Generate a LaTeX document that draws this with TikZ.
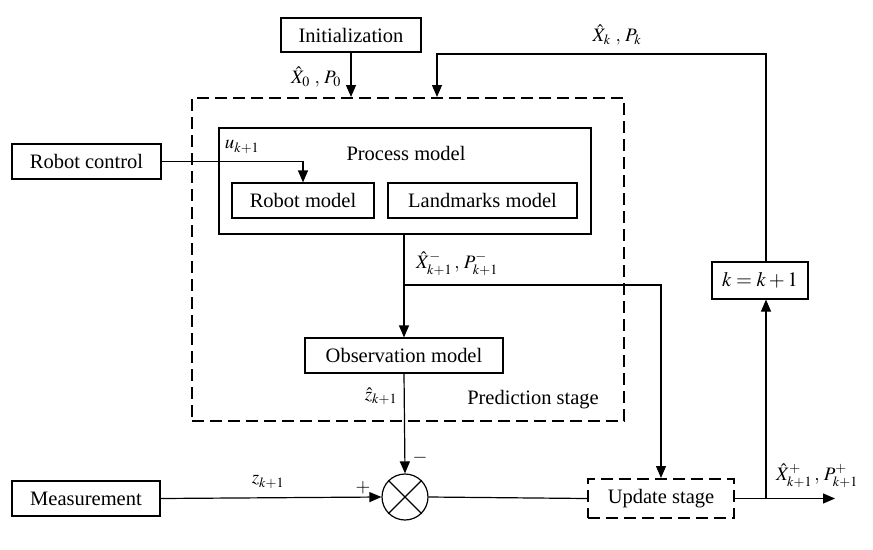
\documentclass[tikz,border=0pt]{standalone}
\usepackage{mathptmx}
\usepackage[no-math]{fontspec}
\setmainfont{Liberation Serif}
\usetikzlibrary{arrows.meta,calc}
\begin{document}
\begin{tikzpicture}[x=1pt,y=-1pt,
  box/.style={draw,line width=1.2pt,inner sep=0pt,font=\fontsize{20.5}{24}\selectfont},
  dbox/.style={draw,line width=2pt,dash pattern=on 12pt off 6pt,inner sep=0pt,font=\fontsize{20.5}{24}\selectfont},
  arr/.style={line width=1.2pt,-{Triangle[length=12pt,width=10pt]}},
  ln/.style={line width=1.2pt},
  lbl/.style={inner sep=0pt,font=\fontsize{19}{22}\selectfont},
  txt/.style={inner sep=0pt,font=\fontsize{20.5}{24}\selectfont}]
\useasboundingbox (0,0) rectangle (873,549);
\node[box,minimum width=140pt,minimum height=34pt] (init) at (351,35) {Initialization};
\node[dbox,minimum width=432pt,minimum height=323pt] (pred) at (408,259.5) {};
\node[box,minimum width=372pt,minimum height=106pt] (process) at (405,181) {};
\node[txt] (proctxt) at (406,153) {Process model};
\node[box,minimum width=149pt,minimum height=35pt] (robotctl) at (86.5,161.5) {Robot control};
\node[box,minimum width=142pt,minimum height=35pt] (robot) at (303,200.5) {Robot model};
\node[box,minimum width=189pt,minimum height=35pt] (landmarks) at (482.5,200.5) {Landmarks model};
\node[box,minimum width=198pt,minimum height=35pt] (obs) at (404,355.5) {Observation model};
\node[txt] (predtxt) at (533,400) {Prediction stage};
\node[box,minimum width=148pt,minimum height=35pt] (meas) at (86,498.5) {Measurement};
\node[draw,circle,line width=1.2pt,minimum size=46pt,inner sep=0pt] (sum) at (405,497) {};
\node[dbox,minimum width=146pt,minimum height=39pt] (update) at (661,498.5) {Update stage};
\node[box,minimum width=96pt,minimum height=37pt] (kbox) at (760,280.5) {$k=k+1$};

\draw[ln] (sum.north east) -- (sum.south west);
\draw[ln] (sum.north west) -- (sum.south east);

\coordinate (fbtop) at (766,54);
\coordinate (fbleft) at (437,54);
\coordinate (br) at (404,285);
\coordinate (kb) at (766,498.5);
\coordinate (out) at (835,498.5);

\draw[arr] (init.south) -- (init.south |- pred.north);
\draw[arr] (kb |- kbox.north) -- (fbtop) -- (fbleft) -- (fbleft |- pred.north);
\draw[arr] (robotctl.east) -| (robot.north);
\draw[arr] (process.south -| obs.north) -- (obs.north);
\draw[arr] (br) -| (update.north);
\draw[arr] (obs.south) -- (sum.north);
\draw[arr] (meas.east) -- (sum.west);
\draw[ln] (sum.east) -- (update.west);
\draw[arr] (update.east) -- (out);
\draw[arr] (kb) -- (kb |- kbox.south);

\node[lbl] (l0) at (316,77) {$\hat{X}_0\ ,\, P_0$};
\node[lbl] (lk) at (617,35) {$\hat{X}_k\ ,\, P_k$};
\node[lbl] (lu) at (242,147) {$u_{k+1}$};
\node[lbl] (lm) at (457,264) {$\hat{X}^-_{k+1}\,,\, P^-_{k+1}$};
\node[lbl] (lz) at (381,396) {$\hat{z}_{k+1}$};
\node[lbl] (lminus) at (420,458) {$-$};
\node[lbl] (lplus) at (363,488) {$+$};
\node[lbl] (lzm) at (268,482) {$z_{k+1}$};
\node[lbl] (lp) at (817,476) {$\hat{X}^+_{k+1}\,,\, P^+_{k+1}$};
\end{tikzpicture}
\end{document}
